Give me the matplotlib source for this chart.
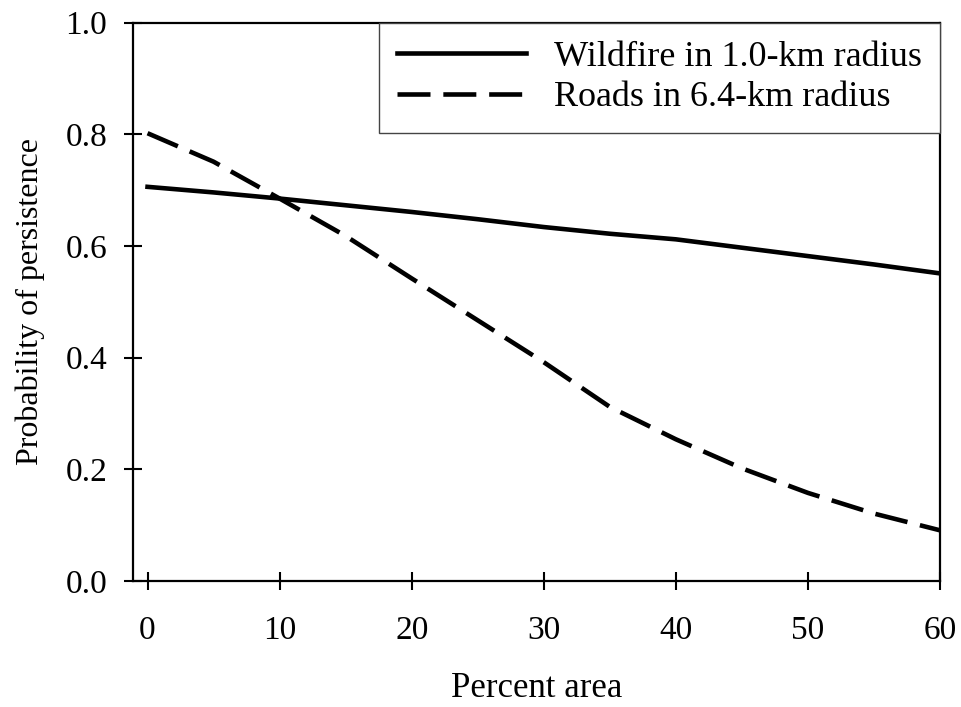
import matplotlib
matplotlib.use("Agg")
import matplotlib.pyplot as plt

# values at every 5 % of area
percent_area = [0, 5, 10, 15, 20, 25, 30, 35, 40, 45, 50, 55, 60]
wildfire_1km = [0.706, 0.696, 0.685, 0.673, 0.661, 0.648, 0.634, 0.622,
                0.612, 0.597, 0.582, 0.567, 0.551]
roads_6km = [0.802, 0.751, 0.685, 0.618, 0.542, 0.467, 0.392, 0.312,
             0.254, 0.202, 0.158, 0.121, 0.091]
x_ticks = [0, 10, 20, 30, 40, 50, 60]
y_ticks = [0.0, 0.2, 0.4, 0.6, 0.8, 1.0]

plt.rcParams["font.family"] = ["Liberation Serif", "DejaVu Serif"]
plt.rcParams["font.size"] = 24

fig = plt.figure(figsize=(9.61, 7.07), dpi=100)
ax = fig.add_axes([0.1384, 0.178, 0.8398, 0.790])

ax.plot(percent_area, wildfire_1km, color="black", lw=3.3,
        label="Wildfire in 1.0-km radius")
ax.plot(percent_area, roads_6km, color="black", lw=3.3, dashes=(7.2, 2.8),
        label="Roads in 6.4-km radius")

ax.set_xlim(-1.1, 60)
ax.set_ylim(0, 1.0)
ax.set_xticks(x_ticks)
ax.set_yticks(y_ticks)
ax.set_yticklabels([f"{v:.1f}" for v in y_ticks])

for side in ax.spines.values():
    side.set_linewidth(1.6)
ax.tick_params(direction="inout", length=13, width=1.5, labelsize=24)
ax.tick_params(axis="y", pad=12)
ax.tick_params(axis="x", pad=18)

ax.set_xlabel("Percent area", fontsize=25, labelpad=19)
ax.set_ylabel("Probability of persistence", fontsize=23, labelpad=15)

leg = ax.legend(loc="upper right", borderaxespad=0, fancybox=False,
                fontsize=26, handlelength=3.57, handletextpad=0.78,
                borderpad=0.5, labelspacing=0.2, framealpha=1)
leg.get_frame().set_edgecolor("#444444")
leg.get_frame().set_linewidth(1.0)

fig.savefig("out.png", dpi=100)
